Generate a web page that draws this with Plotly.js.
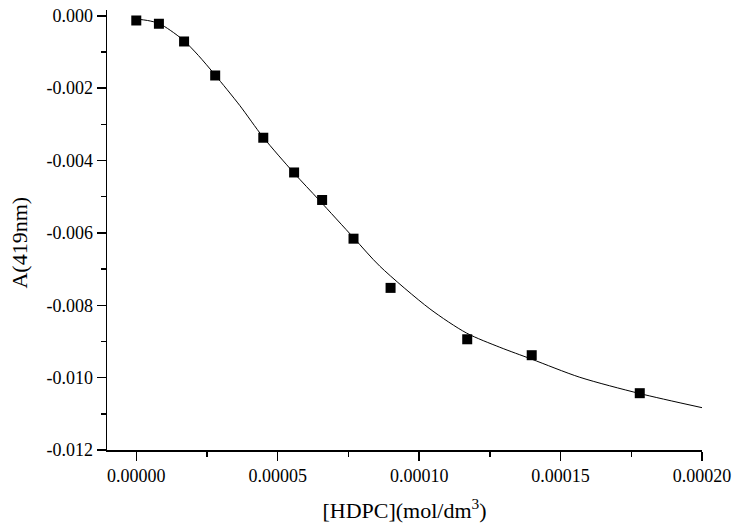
<!DOCTYPE html>
<html>
<head>
<meta charset="utf-8">
<script src="https://cdn.plot.ly/plotly-3.0.1.min.js"></script>
<style>html,body{margin:0;padding:0;background:#fff}#chart{width:737px;height:531px}</style>
</head>
<body>
<div id="chart"></div>
<script>
// measured points: [HDPC] (mol/dm^3) vs A(419nm)
var hdpc = [0, 0.0000080, 0.0000169, 0.0000279, 0.0000449, 0.0000558, 0.0000657, 0.0000768, 0.0000899, 0.0001170, 0.0001398, 0.0001780];
var absorb = [-0.00013, -0.00022, -0.00071, -0.00165, -0.00337, -0.00433, -0.00509, -0.00616, -0.00752, -0.00894, -0.00938, -0.01043];

// fitted curve
var fitX = [0, 0.0000040, 0.0000080, 0.0000120, 0.0000169, 0.0000220, 0.0000278, 0.0000366, 0.0000448, 0.0000557, 0.0000646, 0.0000769, 0.0000861, 0.0001038, 0.0001168, 0.0001285, 0.0001398, 0.0001568, 0.0001780, 0.0002000];
var fitY = [-0.00009, -0.00013, -0.00021, -0.00040, -0.00069, -0.00110, -0.00163, -0.00248, -0.00335, -0.00434, -0.00509, -0.00614, -0.00692, -0.00810, -0.00877, -0.00916, -0.00949, -0.00999, -0.01044, -0.01083];

var xTickVals = [0, 0.00005, 0.00010, 0.00015, 0.00020];
var xTickText = ['0.00000', '0.00005', '0.00010', '0.00015', '0.00020'];
var yTickVals = [0, -0.002, -0.004, -0.006, -0.008, -0.010, -0.012];
var yTickText = ['0.000', '-0.002', '-0.004', '-0.006', '-0.008', '-0.010', '-0.012'];
var xTitle = '[HDPC](mol/dm<sup>3</sup>)';
var yTitle = 'A(419nm)';

var font = 'Liberation Serif, Times New Roman, serif';

var traces = [
  {x: fitX, y: fitY, type: 'scatter', mode: 'lines', line: {color: '#000', width: 1, shape: 'spline', smoothing: 0.8}, hoverinfo: 'skip', showlegend: false},
  {x: hdpc, y: absorb, type: 'scatter', mode: 'markers', marker: {symbol: 'square', size: 10, color: '#000'}, showlegend: false}
];

var layout = {
  width: 737, height: 531,
  margin: {l: 107, r: 35, t: 10, b: 81},
  paper_bgcolor: '#fff', plot_bgcolor: '#fff',
  font: {family: font, size: 18, color: '#000'},
  showlegend: false,
  xaxis: {
    range: [-0.00001035, 0.0002],
    tickmode: 'array', tickvals: xTickVals, ticktext: xTickText,
    ticks: 'outside', ticklen: 9, tickwidth: 1.5, tickcolor: '#000',
    showline: true, linecolor: '#000', linewidth: 1.5,
    showgrid: false, zeroline: false,
    tickfont: {family: font, size: 18, color: '#000'},
    minor: {tickmode: 'array', tickvals: [0.000025, 0.000075, 0.000125, 0.000175], ticks: 'outside', ticklen: 5, tickwidth: 1.5, tickcolor: '#000', showgrid: false},
    title: {text: xTitle, font: {family: font, size: 22, color: '#000'}, standoff: 17}
  },
  yaxis: {
    range: [-0.012, 0.00016],
    tickmode: 'array', tickvals: yTickVals, ticktext: yTickText,
    ticks: 'outside', ticklen: 9, tickwidth: 1.5, tickcolor: '#000',
    showline: true, linecolor: '#000', linewidth: 1.5,
    showgrid: false, zeroline: false,
    tickfont: {family: font, size: 18, color: '#000'},
    minor: {tickmode: 'array', tickvals: [-0.001, -0.003, -0.005, -0.007, -0.009, -0.011], ticks: 'outside', ticklen: 5, tickwidth: 1.5, tickcolor: '#000', showgrid: false}
  },
  annotations: [{
    text: yTitle, textangle: -90, showarrow: false,
    xref: 'paper', yref: 'paper', x: -0.147, y: 0.4705, xanchor: 'center', yanchor: 'middle',
    font: {family: font, size: 22, color: '#000'}
  }]
};

Plotly.newPlot('chart', traces, layout, {displayModeBar: false, staticPlot: true});
</script>
</body>
</html>
